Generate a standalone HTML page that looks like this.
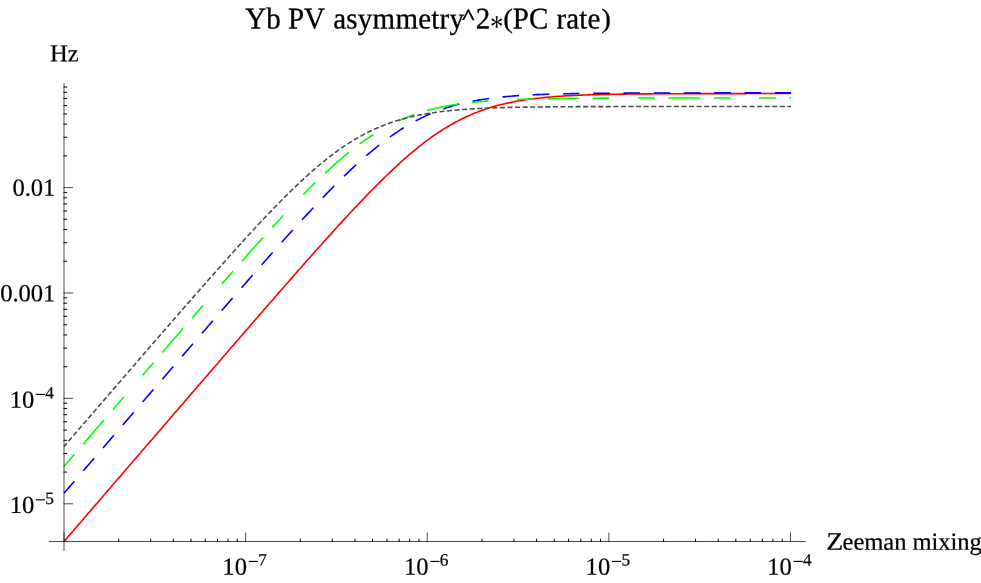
<!DOCTYPE html>
<html><head><meta charset="utf-8"><title>Yb PV asymmetry^2*(PC rate)</title>
<style>html,body{margin:0;padding:0;background:#fff;overflow:hidden}svg{display:block;will-change:transform}text{text-rendering:geometricPrecision;font-family:"Liberation Serif",serif;fill:#000;stroke:#000;stroke-width:0.22px}</style></head><body>
<svg width="981" height="583" viewBox="0 0 981 583">
<rect width="981" height="583" fill="#fff"/>
<g fill="none" stroke-linecap="butt" stroke-linejoin="round">
<path d="M64.00 541.50 L65.82 539.39 L67.64 537.28 L69.45 535.17 L71.27 533.06 L73.09 530.95 L74.91 528.84 L76.72 526.73 L78.54 524.62 L80.36 522.51 L82.18 520.41 L83.99 518.30 L85.81 516.19 L87.63 514.08 L89.45 511.97 L91.27 509.86 L93.08 507.75 L94.90 505.64 L96.72 503.53 L98.54 501.42 L100.35 499.31 L102.17 497.20 L103.99 495.09 L105.81 492.98 L107.62 490.87 L109.44 488.77 L111.26 486.66 L113.08 484.55 L114.89 482.44 L116.71 480.33 L118.53 478.22 L120.35 476.11 L122.17 474.00 L123.98 471.89 L125.80 469.78 L127.62 467.67 L129.44 465.57 L131.25 463.46 L133.07 461.35 L134.89 459.24 L136.71 457.13 L138.52 455.02 L140.34 452.91 L142.16 450.80 L143.98 448.69 L145.80 446.59 L147.61 444.48 L149.43 442.37 L151.25 440.26 L153.07 438.15 L154.88 436.04 L156.70 433.94 L158.52 431.83 L160.34 429.72 L162.15 427.61 L163.97 425.50 L165.79 423.39 L167.61 421.29 L169.43 419.18 L171.24 417.07 L173.06 414.96 L174.88 412.85 L176.70 410.75 L178.51 408.64 L180.33 406.53 L182.15 404.43 L183.97 402.32 L185.78 400.21 L187.60 398.10 L189.42 396.00 L191.24 393.89 L193.05 391.78 L194.87 389.68 L196.69 387.57 L198.51 385.47 L200.33 383.36 L202.14 381.25 L203.96 379.15 L205.78 377.04 L207.60 374.94 L209.41 372.83 L211.23 370.73 L213.05 368.62 L214.87 366.52 L216.68 364.41 L218.50 362.31 L220.32 360.21 L222.14 358.10 L223.96 356.00 L225.77 353.90 L227.59 351.80 L229.41 349.69 L231.23 347.59 L233.04 345.49 L234.86 343.39 L236.68 341.29 L238.50 339.19 L240.31 337.09 L242.13 334.99 L243.95 332.89 L245.77 330.80 L247.59 328.70 L249.40 326.60 L251.22 324.50 L253.04 322.41 L254.86 320.31 L256.67 318.22 L258.49 316.13 L260.31 314.03 L262.13 311.94 L263.94 309.85 L265.76 307.76 L267.58 305.67 L269.40 303.58 L271.21 301.49 L273.03 299.41 L274.85 297.32 L276.67 295.24 L278.49 293.15 L280.30 291.07 L282.12 288.99 L283.94 286.91 L285.76 284.83 L287.57 282.76 L289.39 280.68 L291.21 278.61 L293.03 276.54 L294.84 274.47 L296.66 272.40 L298.48 270.33 L300.30 268.27 L302.12 266.21 L303.93 264.15 L305.75 262.09 L307.57 260.03 L309.39 257.98 L311.20 255.93 L313.02 253.88 L314.84 251.84 L316.66 249.80 L318.47 247.76 L320.29 245.72 L322.11 243.69 L323.93 241.66 L325.75 239.64 L327.56 237.62 L329.38 235.60 L331.20 233.59 L333.02 231.58 L334.83 229.57 L336.65 227.58 L338.47 225.58 L340.29 223.59 L342.10 221.61 L343.92 219.63 L345.74 217.66 L347.56 215.69 L349.37 213.73 L351.19 211.78 L353.01 209.83 L354.83 207.89 L356.65 205.96 L358.46 204.03 L360.28 202.12 L362.10 200.21 L363.92 198.31 L365.73 196.42 L367.55 194.54 L369.37 192.66 L371.19 190.80 L373.00 188.95 L374.82 187.11 L376.64 185.28 L378.46 183.46 L380.28 181.65 L382.09 179.85 L383.91 178.07 L385.73 176.30 L387.55 174.54 L389.36 172.80 L391.18 171.07 L393.00 169.36 L394.82 167.66 L396.63 165.97 L398.45 164.31 L400.27 162.65 L402.09 161.02 L403.91 159.40 L405.72 157.80 L407.54 156.22 L409.36 154.65 L411.18 153.11 L412.99 151.58 L414.81 150.08 L416.63 148.59 L418.45 147.13 L420.26 145.68 L422.08 144.26 L423.90 142.86 L425.72 141.48 L427.53 140.12 L429.35 138.78 L431.17 137.47 L432.99 136.18 L434.81 134.91 L436.62 133.67 L438.44 132.45 L440.26 131.25 L442.08 130.08 L443.89 128.93 L445.71 127.81 L447.53 126.71 L449.35 125.64 L451.16 124.59 L452.98 123.56 L454.80 122.56 L456.62 121.58 L458.44 120.62 L460.25 119.69 L462.07 118.79 L463.89 117.91 L465.71 117.05 L467.52 116.21 L469.34 115.40 L471.16 114.61 L472.98 113.84 L474.79 113.10 L476.61 112.38 L478.43 111.68 L480.25 111.00 L482.07 110.34 L483.88 109.70 L485.70 109.08 L487.52 108.49 L489.34 107.91 L491.15 107.35 L492.97 106.81 L494.79 106.29 L496.61 105.79 L498.42 105.30 L500.24 104.83 L502.06 104.38 L503.88 103.94 L505.70 103.52 L507.51 103.12 L509.33 102.73 L511.15 102.35 L512.97 101.99 L514.78 101.64 L516.60 101.30 L518.42 100.98 L520.24 100.67 L522.05 100.37 L523.87 100.09 L525.69 99.81 L527.51 99.55 L529.32 99.29 L531.14 99.05 L532.96 98.82 L534.78 98.59 L536.60 98.38 L538.41 98.17 L540.23 97.97 L542.05 97.78 L543.87 97.60 L545.68 97.42 L547.50 97.26 L549.32 97.10 L551.14 96.94 L552.95 96.79 L554.77 96.65 L556.59 96.52 L558.41 96.39 L560.23 96.26 L562.04 96.14 L563.86 96.03 L565.68 95.92 L567.50 95.82 L569.31 95.72 L571.13 95.62 L572.95 95.53 L574.77 95.44 L576.58 95.36 L578.40 95.28 L580.22 95.20 L582.04 95.13 L583.86 95.06 L585.67 94.99 L587.49 94.93 L589.31 94.87 L591.13 94.81 L592.94 94.75 L594.76 94.70 L596.58 94.65 L598.40 94.60 L600.21 94.55 L602.03 94.51 L603.85 94.47 L605.67 94.42 L607.48 94.39 L609.30 94.35 L611.12 94.31 L612.94 94.28 L614.76 94.25 L616.57 94.22 L618.39 94.19 L620.21 94.16 L622.03 94.13 L623.84 94.10 L625.66 94.08 L627.48 94.06 L629.30 94.03 L631.11 94.01 L632.93 93.99 L634.75 93.97 L636.57 93.95 L638.39 93.93 L640.20 93.92 L642.02 93.90 L643.84 93.88 L645.66 93.87 L647.47 93.85 L649.29 93.84 L651.11 93.83 L652.93 93.82 L654.74 93.80 L656.56 93.79 L658.38 93.78 L660.20 93.77 L662.02 93.76 L663.83 93.75 L665.65 93.74 L667.47 93.73 L669.29 93.73 L671.10 93.72 L672.92 93.71 L674.74 93.70 L676.56 93.70 L678.37 93.69 L680.19 93.68 L682.01 93.68 L683.83 93.67 L685.64 93.67 L687.46 93.66 L689.28 93.66 L691.10 93.65 L692.92 93.65 L694.73 93.64 L696.55 93.64 L698.37 93.63 L700.19 93.63 L702.00 93.63 L703.82 93.62 L705.64 93.62 L707.46 93.62 L709.27 93.61 L711.09 93.61 L712.91 93.61 L714.73 93.61 L716.55 93.60 L718.36 93.60 L720.18 93.60 L722.00 93.60 L723.82 93.59 L725.63 93.59 L727.45 93.59 L729.27 93.59 L731.09 93.59 L732.90 93.59 L734.72 93.58 L736.54 93.58 L738.36 93.58 L740.18 93.58 L741.99 93.58 L743.81 93.58 L745.63 93.58 L747.45 93.57 L749.26 93.57 L751.08 93.57 L752.90 93.57 L754.72 93.57 L756.53 93.57 L758.35 93.57 L760.17 93.57 L761.99 93.57 L763.80 93.57 L765.62 93.57 L767.44 93.56 L769.26 93.56 L771.08 93.56 L772.89 93.56 L774.71 93.56 L776.53 93.56 L778.35 93.56 L780.16 93.56 L781.98 93.56 L783.80 93.56 L785.62 93.56 L787.43 93.56 L789.25 93.56 L791.07 93.56" stroke="#ff0000" stroke-width="1.60"/>
<path d="M64.00 493.20 L65.82 491.09 L67.64 488.98 L69.45 486.87 L71.27 484.76 L73.09 482.65 L74.91 480.54 L76.72 478.44 L78.54 476.33 L80.36 474.22 L82.18 472.11 L83.99 470.00 L85.81 467.89 L87.63 465.78 L89.45 463.67 L91.27 461.56 L93.08 459.45 L94.90 457.35 L96.72 455.24 L98.54 453.13 L100.35 451.02 L102.17 448.91 L103.99 446.80 L105.81 444.69 L107.62 442.58 L109.44 440.48 L111.26 438.37 L113.08 436.26 L114.89 434.15 L116.71 432.04 L118.53 429.93 L120.35 427.83 L122.17 425.72 L123.98 423.61 L125.80 421.50 L127.62 419.39 L129.44 417.29 L131.25 415.18 L133.07 413.07 L134.89 410.96 L136.71 408.85 L138.52 406.75 L140.34 404.64 L142.16 402.53 L143.98 400.43 L145.80 398.32 L147.61 396.21 L149.43 394.11 L151.25 392.00 L153.07 389.89 L154.88 387.79 L156.70 385.68 L158.52 383.57 L160.34 381.47 L162.15 379.36 L163.97 377.26 L165.79 375.15 L167.61 373.05 L169.43 370.94 L171.24 368.84 L173.06 366.73 L174.88 364.63 L176.70 362.52 L178.51 360.42 L180.33 358.32 L182.15 356.21 L183.97 354.11 L185.78 352.01 L187.60 349.91 L189.42 347.81 L191.24 345.70 L193.05 343.60 L194.87 341.50 L196.69 339.40 L198.51 337.30 L200.33 335.20 L202.14 333.10 L203.96 331.01 L205.78 328.91 L207.60 326.81 L209.41 324.72 L211.23 322.62 L213.05 320.52 L214.87 318.43 L216.68 316.34 L218.50 314.24 L220.32 312.15 L222.14 310.06 L223.96 307.97 L225.77 305.88 L227.59 303.79 L229.41 301.70 L231.23 299.61 L233.04 297.53 L234.86 295.44 L236.68 293.36 L238.50 291.28 L240.31 289.19 L242.13 287.11 L243.95 285.04 L245.77 282.96 L247.59 280.88 L249.40 278.81 L251.22 276.74 L253.04 274.67 L254.86 272.60 L256.67 270.53 L258.49 268.47 L260.31 266.40 L262.13 264.34 L263.94 262.28 L265.76 260.23 L267.58 258.17 L269.40 256.12 L271.21 254.07 L273.03 252.03 L274.85 249.98 L276.67 247.94 L278.49 245.91 L280.30 243.87 L282.12 241.84 L283.94 239.82 L285.76 237.80 L287.57 235.78 L289.39 233.76 L291.21 231.75 L293.03 229.75 L294.84 227.75 L296.66 225.75 L298.48 223.76 L300.30 221.77 L302.12 219.79 L303.93 217.82 L305.75 215.85 L307.57 213.89 L309.39 211.93 L311.20 209.98 L313.02 208.04 L314.84 206.10 L316.66 204.17 L318.47 202.25 L320.29 200.34 L322.11 198.44 L323.93 196.54 L325.75 194.66 L327.56 192.78 L329.38 190.91 L331.20 189.06 L333.02 187.21 L334.83 185.38 L336.65 183.55 L338.47 181.74 L340.29 179.94 L342.10 178.15 L343.92 176.37 L345.74 174.61 L347.56 172.86 L349.37 171.13 L351.19 169.41 L353.01 167.70 L354.83 166.01 L356.65 164.34 L358.46 162.68 L360.28 161.04 L362.10 159.41 L363.92 157.81 L365.73 156.22 L367.55 154.64 L369.37 153.09 L371.19 151.56 L373.00 150.04 L374.82 148.55 L376.64 147.08 L378.46 145.62 L380.28 144.19 L382.09 142.78 L383.91 141.39 L385.73 140.02 L387.55 138.68 L389.36 137.36 L391.18 136.06 L393.00 134.78 L394.82 133.53 L396.63 132.30 L398.45 131.09 L400.27 129.91 L402.09 128.75 L403.91 127.62 L405.72 126.51 L407.54 125.42 L409.36 124.36 L411.18 123.33 L412.99 122.32 L414.81 121.33 L416.63 120.36 L418.45 119.42 L420.26 118.51 L422.08 117.62 L423.90 116.75 L425.72 115.90 L427.53 115.08 L429.35 114.28 L431.17 113.51 L432.99 112.75 L434.81 112.02 L436.62 111.31 L438.44 110.62 L440.26 109.96 L442.08 109.31 L443.89 108.69 L445.71 108.08 L447.53 107.49 L449.35 106.93 L451.16 106.38 L452.98 105.85 L454.80 105.34 L456.62 104.85 L458.44 104.37 L460.25 103.91 L462.07 103.47 L463.89 103.04 L465.71 102.63 L467.52 102.23 L469.34 101.85 L471.16 101.48 L472.98 101.13 L474.79 100.79 L476.61 100.46 L478.43 100.15 L480.25 99.84 L482.07 99.55 L483.88 99.27 L485.70 99.00 L487.52 98.75 L489.34 98.50 L491.15 98.26 L492.97 98.03 L494.79 97.81 L496.61 97.60 L498.42 97.40 L500.24 97.21 L502.06 97.02 L503.88 96.84 L505.70 96.67 L507.51 96.51 L509.33 96.35 L511.15 96.20 L512.97 96.06 L514.78 95.92 L516.60 95.79 L518.42 95.66 L520.24 95.54 L522.05 95.43 L523.87 95.32 L525.69 95.21 L527.51 95.11 L529.32 95.01 L531.14 94.92 L532.96 94.83 L534.78 94.74 L536.60 94.66 L538.41 94.58 L540.23 94.51 L542.05 94.44 L543.87 94.37 L545.68 94.31 L547.50 94.24 L549.32 94.18 L551.14 94.13 L552.95 94.07 L554.77 94.02 L556.59 93.97 L558.41 93.92 L560.23 93.88 L562.04 93.83 L563.86 93.79 L565.68 93.75 L567.50 93.71 L569.31 93.68 L571.13 93.64 L572.95 93.61 L574.77 93.58 L576.58 93.55 L578.40 93.52 L580.22 93.49 L582.04 93.46 L583.86 93.44 L585.67 93.41 L587.49 93.39 L589.31 93.37 L591.13 93.35 L592.94 93.33 L594.76 93.31 L596.58 93.29 L598.40 93.27 L600.21 93.26 L602.03 93.24 L603.85 93.23 L605.67 93.21 L607.48 93.20 L609.30 93.18 L611.12 93.17 L612.94 93.16 L614.76 93.15 L616.57 93.14 L618.39 93.13 L620.21 93.12 L622.03 93.11 L623.84 93.10 L625.66 93.09 L627.48 93.08 L629.30 93.07 L631.11 93.06 L632.93 93.06 L634.75 93.05 L636.57 93.04 L638.39 93.04 L640.20 93.03 L642.02 93.02 L643.84 93.02 L645.66 93.01 L647.47 93.01 L649.29 93.00 L651.11 93.00 L652.93 92.99 L654.74 92.99 L656.56 92.99 L658.38 92.98 L660.20 92.98 L662.02 92.97 L663.83 92.97 L665.65 92.97 L667.47 92.97 L669.29 92.96 L671.10 92.96 L672.92 92.96 L674.74 92.95 L676.56 92.95 L678.37 92.95 L680.19 92.95 L682.01 92.94 L683.83 92.94 L685.64 92.94 L687.46 92.94 L689.28 92.94 L691.10 92.94 L692.92 92.93 L694.73 92.93 L696.55 92.93 L698.37 92.93 L700.19 92.93 L702.00 92.93 L703.82 92.93 L705.64 92.92 L707.46 92.92 L709.27 92.92 L711.09 92.92 L712.91 92.92 L714.73 92.92 L716.55 92.92 L718.36 92.92 L720.18 92.92 L722.00 92.92 L723.82 92.92 L725.63 92.91 L727.45 92.91 L729.27 92.91 L731.09 92.91 L732.90 92.91 L734.72 92.91 L736.54 92.91 L738.36 92.91 L740.18 92.91 L741.99 92.91 L743.81 92.91 L745.63 92.91 L747.45 92.91 L749.26 92.91 L751.08 92.91 L752.90 92.91 L754.72 92.91 L756.53 92.91 L758.35 92.91 L760.17 92.91 L761.99 92.91 L763.80 92.91 L765.62 92.91 L767.44 92.91 L769.26 92.90 L771.08 92.90 L772.89 92.90 L774.71 92.90 L776.53 92.90 L778.35 92.90 L780.16 92.90 L781.98 92.90 L783.80 92.90 L785.62 92.90 L787.43 92.90 L789.25 92.90 L791.07 92.90" stroke="#0000ff" stroke-width="1.60" stroke-dasharray="16.633 13.633" stroke-dashoffset="0.750"/>
<path d="M64.00 466.40 L65.82 464.29 L67.64 462.18 L69.45 460.07 L71.27 457.96 L73.09 455.86 L74.91 453.75 L76.72 451.64 L78.54 449.53 L80.36 447.42 L82.18 445.31 L83.99 443.20 L85.81 441.10 L87.63 438.99 L89.45 436.88 L91.27 434.77 L93.08 432.66 L94.90 430.55 L96.72 428.45 L98.54 426.34 L100.35 424.23 L102.17 422.12 L103.99 420.01 L105.81 417.91 L107.62 415.80 L109.44 413.69 L111.26 411.58 L113.08 409.48 L114.89 407.37 L116.71 405.26 L118.53 403.16 L120.35 401.05 L122.17 398.94 L123.98 396.84 L125.80 394.73 L127.62 392.62 L129.44 390.52 L131.25 388.41 L133.07 386.30 L134.89 384.20 L136.71 382.09 L138.52 379.99 L140.34 377.88 L142.16 375.78 L143.98 373.67 L145.80 371.57 L147.61 369.47 L149.43 367.36 L151.25 365.26 L153.07 363.15 L154.88 361.05 L156.70 358.95 L158.52 356.85 L160.34 354.74 L162.15 352.64 L163.97 350.54 L165.79 348.44 L167.61 346.34 L169.43 344.24 L171.24 342.14 L173.06 340.04 L174.88 337.94 L176.70 335.84 L178.51 333.75 L180.33 331.65 L182.15 329.55 L183.97 327.46 L185.78 325.36 L187.60 323.27 L189.42 321.17 L191.24 319.08 L193.05 316.99 L194.87 314.90 L196.69 312.81 L198.51 310.72 L200.33 308.63 L202.14 306.54 L203.96 304.45 L205.78 302.37 L207.60 300.28 L209.41 298.20 L211.23 296.12 L213.05 294.03 L214.87 291.96 L216.68 289.88 L218.50 287.80 L220.32 285.72 L222.14 283.65 L223.96 281.58 L225.77 279.51 L227.59 277.44 L229.41 275.37 L231.23 273.31 L233.04 271.24 L234.86 269.18 L236.68 267.13 L238.50 265.07 L240.31 263.02 L242.13 260.97 L243.95 258.92 L245.77 256.87 L247.59 254.83 L249.40 252.79 L251.22 250.75 L253.04 248.72 L254.86 246.69 L256.67 244.67 L258.49 242.64 L260.31 240.63 L262.13 238.61 L263.94 236.60 L265.76 234.60 L267.58 232.60 L269.40 230.60 L271.21 228.61 L273.03 226.62 L274.85 224.64 L276.67 222.67 L278.49 220.70 L280.30 218.74 L282.12 216.79 L283.94 214.84 L285.76 212.89 L287.57 210.96 L289.39 209.03 L291.21 207.11 L293.03 205.20 L294.84 203.30 L296.66 201.41 L298.48 199.52 L300.30 197.65 L302.12 195.78 L303.93 193.93 L305.75 192.08 L307.57 190.25 L309.39 188.42 L311.20 186.61 L313.02 184.81 L314.84 183.03 L316.66 181.25 L318.47 179.49 L320.29 177.75 L322.11 176.01 L323.93 174.29 L325.75 172.59 L327.56 170.90 L329.38 169.23 L331.20 167.57 L333.02 165.93 L334.83 164.31 L336.65 162.71 L338.47 161.12 L340.29 159.55 L342.10 158.00 L343.92 156.47 L345.74 154.96 L347.56 153.46 L349.37 151.99 L351.19 150.54 L353.01 149.11 L354.83 147.70 L356.65 146.32 L358.46 144.95 L360.28 143.61 L362.10 142.29 L363.92 141.00 L365.73 139.72 L367.55 138.47 L369.37 137.25 L371.19 136.04 L373.00 134.86 L374.82 133.71 L376.64 132.58 L378.46 131.47 L380.28 130.39 L382.09 129.33 L383.91 128.30 L385.73 127.29 L387.55 126.31 L389.36 125.34 L391.18 124.41 L393.00 123.50 L394.82 122.61 L396.63 121.74 L398.45 120.90 L400.27 120.08 L402.09 119.28 L403.91 118.51 L405.72 117.76 L407.54 117.03 L409.36 116.32 L411.18 115.64 L412.99 114.98 L414.81 114.33 L416.63 113.71 L418.45 113.11 L420.26 112.52 L422.08 111.96 L423.90 111.41 L425.72 110.89 L427.53 110.38 L429.35 109.89 L431.17 109.41 L432.99 108.96 L434.81 108.52 L436.62 108.09 L438.44 107.68 L440.26 107.29 L442.08 106.91 L443.89 106.54 L445.71 106.19 L447.53 105.85 L449.35 105.52 L451.16 105.21 L452.98 104.91 L454.80 104.62 L456.62 104.34 L458.44 104.07 L460.25 103.82 L462.07 103.57 L463.89 103.33 L465.71 103.10 L467.52 102.89 L469.34 102.68 L471.16 102.48 L472.98 102.28 L474.79 102.10 L476.61 101.92 L478.43 101.75 L480.25 101.59 L482.07 101.43 L483.88 101.29 L485.70 101.14 L487.52 101.01 L489.34 100.87 L491.15 100.75 L492.97 100.63 L494.79 100.51 L496.61 100.40 L498.42 100.30 L500.24 100.20 L502.06 100.10 L503.88 100.01 L505.70 99.92 L507.51 99.83 L509.33 99.75 L511.15 99.68 L512.97 99.60 L514.78 99.53 L516.60 99.46 L518.42 99.40 L520.24 99.34 L522.05 99.28 L523.87 99.22 L525.69 99.17 L527.51 99.11 L529.32 99.06 L531.14 99.02 L532.96 98.97 L534.78 98.93 L536.60 98.89 L538.41 98.85 L540.23 98.81 L542.05 98.77 L543.87 98.74 L545.68 98.71 L547.50 98.67 L549.32 98.64 L551.14 98.61 L552.95 98.59 L554.77 98.56 L556.59 98.54 L558.41 98.51 L560.23 98.49 L562.04 98.47 L563.86 98.45 L565.68 98.43 L567.50 98.41 L569.31 98.39 L571.13 98.37 L572.95 98.35 L574.77 98.34 L576.58 98.32 L578.40 98.31 L580.22 98.30 L582.04 98.28 L583.86 98.27 L585.67 98.26 L587.49 98.25 L589.31 98.23 L591.13 98.22 L592.94 98.21 L594.76 98.20 L596.58 98.20 L598.40 98.19 L600.21 98.18 L602.03 98.17 L603.85 98.16 L605.67 98.16 L607.48 98.15 L609.30 98.14 L611.12 98.14 L612.94 98.13 L614.76 98.12 L616.57 98.12 L618.39 98.11 L620.21 98.11 L622.03 98.10 L623.84 98.10 L625.66 98.09 L627.48 98.09 L629.30 98.09 L631.11 98.08 L632.93 98.08 L634.75 98.07 L636.57 98.07 L638.39 98.07 L640.20 98.06 L642.02 98.06 L643.84 98.06 L645.66 98.06 L647.47 98.05 L649.29 98.05 L651.11 98.05 L652.93 98.05 L654.74 98.04 L656.56 98.04 L658.38 98.04 L660.20 98.04 L662.02 98.04 L663.83 98.04 L665.65 98.03 L667.47 98.03 L669.29 98.03 L671.10 98.03 L672.92 98.03 L674.74 98.03 L676.56 98.03 L678.37 98.02 L680.19 98.02 L682.01 98.02 L683.83 98.02 L685.64 98.02 L687.46 98.02 L689.28 98.02 L691.10 98.02 L692.92 98.02 L694.73 98.02 L696.55 98.02 L698.37 98.01 L700.19 98.01 L702.00 98.01 L703.82 98.01 L705.64 98.01 L707.46 98.01 L709.27 98.01 L711.09 98.01 L712.91 98.01 L714.73 98.01 L716.55 98.01 L718.36 98.01 L720.18 98.01 L722.00 98.01 L723.82 98.01 L725.63 98.01 L727.45 98.01 L729.27 98.01 L731.09 98.01 L732.90 98.01 L734.72 98.01 L736.54 98.01 L738.36 98.01 L740.18 98.01 L741.99 98.00 L743.81 98.00 L745.63 98.00 L747.45 98.00 L749.26 98.00 L751.08 98.00 L752.90 98.00 L754.72 98.00 L756.53 98.00 L758.35 98.00 L760.17 98.00 L761.99 98.00 L763.80 98.00 L765.62 98.00 L767.44 98.00 L769.26 98.00 L771.08 98.00 L772.89 98.00 L774.71 98.00 L776.53 98.00 L778.35 98.00 L780.16 98.00 L781.98 98.00 L783.80 98.00 L785.62 98.00 L787.43 98.00 L789.25 98.00 L791.07 98.00" stroke="#00ff00" stroke-width="1.60" stroke-dasharray="16.633 13.633 31.766 13.633 16.633 28.766" stroke-dashoffset="0.750"/>
<path d="M64.00 446.50 L65.82 444.39 L67.64 442.28 L69.45 440.18 L71.27 438.07 L73.09 435.96 L74.91 433.85 L76.72 431.74 L78.54 429.64 L80.36 427.53 L82.18 425.42 L83.99 423.31 L85.81 421.20 L87.63 419.10 L89.45 416.99 L91.27 414.88 L93.08 412.78 L94.90 410.67 L96.72 408.56 L98.54 406.46 L100.35 404.35 L102.17 402.24 L103.99 400.14 L105.81 398.03 L107.62 395.92 L109.44 393.82 L111.26 391.71 L113.08 389.61 L114.89 387.50 L116.71 385.40 L118.53 383.29 L120.35 381.19 L122.17 379.08 L123.98 376.98 L125.80 374.88 L127.62 372.77 L129.44 370.67 L131.25 368.57 L133.07 366.46 L134.89 364.36 L136.71 362.26 L138.52 360.16 L140.34 358.06 L142.16 355.96 L143.98 353.86 L145.80 351.76 L147.61 349.66 L149.43 347.56 L151.25 345.46 L153.07 343.36 L154.88 341.26 L156.70 339.17 L158.52 337.07 L160.34 334.98 L162.15 332.88 L163.97 330.79 L165.79 328.69 L167.61 326.60 L169.43 324.51 L171.24 322.42 L173.06 320.33 L174.88 318.24 L176.70 316.15 L178.51 314.06 L180.33 311.98 L182.15 309.89 L183.97 307.81 L185.78 305.72 L187.60 303.64 L189.42 301.56 L191.24 299.48 L193.05 297.40 L194.87 295.33 L196.69 293.25 L198.51 291.18 L200.33 289.11 L202.14 287.04 L203.96 284.97 L205.78 282.91 L207.60 280.84 L209.41 278.78 L211.23 276.72 L213.05 274.66 L214.87 272.61 L216.68 270.56 L218.50 268.51 L220.32 266.46 L222.14 264.41 L223.96 262.37 L225.77 260.34 L227.59 258.30 L229.41 256.27 L231.23 254.24 L233.04 252.22 L234.86 250.20 L236.68 248.18 L238.50 246.17 L240.31 244.16 L242.13 242.16 L243.95 240.16 L245.77 238.17 L247.59 236.18 L249.40 234.20 L251.22 232.22 L253.04 230.25 L254.86 228.28 L256.67 226.32 L258.49 224.37 L260.31 222.43 L262.13 220.49 L263.94 218.56 L265.76 216.63 L267.58 214.72 L269.40 212.81 L271.21 210.91 L273.03 209.02 L274.85 207.14 L276.67 205.27 L278.49 203.41 L280.30 201.56 L282.12 199.72 L283.94 197.89 L285.76 196.08 L287.57 194.27 L289.39 192.48 L291.21 190.70 L293.03 188.93 L294.84 187.17 L296.66 185.43 L298.48 183.71 L300.30 181.99 L302.12 180.30 L303.93 178.62 L305.75 176.95 L307.57 175.30 L309.39 173.67 L311.20 172.06 L313.02 170.46 L314.84 168.88 L316.66 167.32 L318.47 165.78 L320.29 164.26 L322.11 162.76 L323.93 161.27 L325.75 159.81 L327.56 158.37 L329.38 156.95 L331.20 155.55 L333.02 154.18 L334.83 152.82 L336.65 151.49 L338.47 150.18 L340.29 148.90 L342.10 147.63 L343.92 146.40 L345.74 145.18 L347.56 143.99 L349.37 142.82 L351.19 141.68 L353.01 140.56 L354.83 139.46 L356.65 138.39 L358.46 137.35 L360.28 136.32 L362.10 135.33 L363.92 134.35 L365.73 133.40 L367.55 132.48 L369.37 131.58 L371.19 130.70 L373.00 129.84 L374.82 129.01 L376.64 128.20 L378.46 127.42 L380.28 126.66 L382.09 125.92 L383.91 125.20 L385.73 124.50 L387.55 123.83 L389.36 123.17 L391.18 122.54 L393.00 121.92 L394.82 121.33 L396.63 120.76 L398.45 120.20 L400.27 119.67 L402.09 119.15 L403.91 118.65 L405.72 118.16 L407.54 117.70 L409.36 117.25 L411.18 116.81 L412.99 116.40 L414.81 115.99 L416.63 115.61 L418.45 115.23 L420.26 114.87 L422.08 114.53 L423.90 114.19 L425.72 113.87 L427.53 113.57 L429.35 113.27 L431.17 112.99 L432.99 112.71 L434.81 112.45 L436.62 112.20 L438.44 111.96 L440.26 111.72 L442.08 111.50 L443.89 111.29 L445.71 111.08 L447.53 110.89 L449.35 110.70 L451.16 110.52 L452.98 110.34 L454.80 110.18 L456.62 110.02 L458.44 109.86 L460.25 109.72 L462.07 109.58 L463.89 109.44 L465.71 109.31 L467.52 109.19 L469.34 109.07 L471.16 108.96 L472.98 108.85 L474.79 108.75 L476.61 108.65 L478.43 108.56 L480.25 108.46 L482.07 108.38 L483.88 108.30 L485.70 108.22 L487.52 108.14 L489.34 108.07 L491.15 108.00 L492.97 107.93 L494.79 107.87 L496.61 107.81 L498.42 107.75 L500.24 107.69 L502.06 107.64 L503.88 107.59 L505.70 107.54 L507.51 107.49 L509.33 107.45 L511.15 107.41 L512.97 107.37 L514.78 107.33 L516.60 107.29 L518.42 107.26 L520.24 107.22 L522.05 107.19 L523.87 107.16 L525.69 107.13 L527.51 107.10 L529.32 107.07 L531.14 107.05 L532.96 107.02 L534.78 107.00 L536.60 106.98 L538.41 106.96 L540.23 106.94 L542.05 106.92 L543.87 106.90 L545.68 106.88 L547.50 106.86 L549.32 106.85 L551.14 106.83 L552.95 106.82 L554.77 106.80 L556.59 106.79 L558.41 106.78 L560.23 106.76 L562.04 106.75 L563.86 106.74 L565.68 106.73 L567.50 106.72 L569.31 106.71 L571.13 106.70 L572.95 106.69 L574.77 106.68 L576.58 106.67 L578.40 106.67 L580.22 106.66 L582.04 106.65 L583.86 106.64 L585.67 106.64 L587.49 106.63 L589.31 106.63 L591.13 106.62 L592.94 106.62 L594.76 106.61 L596.58 106.61 L598.40 106.60 L600.21 106.60 L602.03 106.59 L603.85 106.59 L605.67 106.58 L607.48 106.58 L609.30 106.58 L611.12 106.57 L612.94 106.57 L614.76 106.57 L616.57 106.56 L618.39 106.56 L620.21 106.56 L622.03 106.56 L623.84 106.55 L625.66 106.55 L627.48 106.55 L629.30 106.55 L631.11 106.54 L632.93 106.54 L634.75 106.54 L636.57 106.54 L638.39 106.54 L640.20 106.53 L642.02 106.53 L643.84 106.53 L645.66 106.53 L647.47 106.53 L649.29 106.53 L651.11 106.53 L652.93 106.53 L654.74 106.52 L656.56 106.52 L658.38 106.52 L660.20 106.52 L662.02 106.52 L663.83 106.52 L665.65 106.52 L667.47 106.52 L669.29 106.52 L671.10 106.52 L672.92 106.52 L674.74 106.51 L676.56 106.51 L678.37 106.51 L680.19 106.51 L682.01 106.51 L683.83 106.51 L685.64 106.51 L687.46 106.51 L689.28 106.51 L691.10 106.51 L692.92 106.51 L694.73 106.51 L696.55 106.51 L698.37 106.51 L700.19 106.51 L702.00 106.51 L703.82 106.51 L705.64 106.51 L707.46 106.51 L709.27 106.51 L711.09 106.51 L712.91 106.51 L714.73 106.51 L716.55 106.51 L718.36 106.50 L720.18 106.50 L722.00 106.50 L723.82 106.50 L725.63 106.50 L727.45 106.50 L729.27 106.50 L731.09 106.50 L732.90 106.50 L734.72 106.50 L736.54 106.50 L738.36 106.50 L740.18 106.50 L741.99 106.50 L743.81 106.50 L745.63 106.50 L747.45 106.50 L749.26 106.50 L751.08 106.50 L752.90 106.50 L754.72 106.50 L756.53 106.50 L758.35 106.50 L760.17 106.50 L761.99 106.50 L763.80 106.50 L765.62 106.50 L767.44 106.50 L769.26 106.50 L771.08 106.50 L772.89 106.50 L774.71 106.50 L776.53 106.50 L778.35 106.50 L780.16 106.50 L781.98 106.50 L783.80 106.50 L785.62 106.50 L787.43 106.50 L789.25 106.50 L791.07 106.50" stroke="#4d4d4d" stroke-width="1.60" stroke-dasharray="5.033 2.533" stroke-dashoffset="0.625"/>
</g>
<g stroke="#000" fill="none">
<line x1="64.00" y1="83.20" x2="64.00" y2="551.00" stroke-width="1" stroke="#000" stroke-opacity="0.7"/>
<line x1="49.00" y1="541.50" x2="805.70" y2="541.50" stroke-width="1" stroke="#000" stroke-opacity="0.7"/>
<path d="M64.00 542.00V532.50 M245.63 542.00V532.50 M427.26 542.00V532.50 M608.89 542.00V532.50 M790.52 542.00V532.50 M63.50 503.80H73.00 M63.50 398.40H73.00 M63.50 293.00H73.00 M63.50 187.60H73.00" stroke-width="1" stroke="#000" stroke-opacity="0.7"/>
<path d="M118.68 542.00V538.70 M150.66 542.00V538.70 M173.35 542.00V538.70 M190.95 542.00V538.70 M205.34 542.00V538.70 M217.50 542.00V538.70 M228.03 542.00V538.70 M237.32 542.00V538.70 M300.31 542.00V538.70 M332.29 542.00V538.70 M354.98 542.00V538.70 M372.58 542.00V538.70 M386.97 542.00V538.70 M399.13 542.00V538.70 M409.66 542.00V538.70 M418.95 542.00V538.70 M481.94 542.00V538.70 M513.92 542.00V538.70 M536.61 542.00V538.70 M554.21 542.00V538.70 M568.60 542.00V538.70 M580.76 542.00V538.70 M591.29 542.00V538.70 M600.58 542.00V538.70 M663.57 542.00V538.70 M695.55 542.00V538.70 M718.24 542.00V538.70 M735.84 542.00V538.70 M750.23 542.00V538.70 M762.39 542.00V538.70 M772.92 542.00V538.70 M782.21 542.00V538.70 M63.50 472.07H67.10 M63.50 453.51H67.10 M63.50 440.34H67.10 M63.50 430.13H67.10 M63.50 421.78H67.10 M63.50 414.73H67.10 M63.50 408.61H67.10 M63.50 403.22H67.10 M63.50 366.67H67.10 M63.50 348.11H67.10 M63.50 334.94H67.10 M63.50 324.73H67.10 M63.50 316.38H67.10 M63.50 309.33H67.10 M63.50 303.21H67.10 M63.50 297.82H67.10 M63.50 261.27H67.10 M63.50 242.71H67.10 M63.50 229.54H67.10 M63.50 219.33H67.10 M63.50 210.98H67.10 M63.50 203.93H67.10 M63.50 197.81H67.10 M63.50 192.42H67.10 M63.50 155.87H67.10 M63.50 137.31H67.10 M63.50 124.14H67.10 M63.50 113.93H67.10 M63.50 105.58H67.10 M63.50 98.53H67.10 M63.50 92.41H67.10 M63.50 87.02H67.10" stroke-width="1" stroke="#000"/>
</g>
<text transform="matrix(1.0000 0.0006 0 1.0400 245.20 28.50)" font-size="29.00" style="stroke-width:0.30px">Yb PV</text>
<text transform="matrix(1.0000 0.0006 0 1.0400 333.17 28.50)" font-size="29.00" letter-spacing="0.250" style="stroke-width:0.30px">asymmetry</text>
<text transform="matrix(0.8900 0.0006 0 0.7600 462.24 24.10)" font-size="29.00" style="stroke-width:0.80px">^</text>
<text transform="matrix(1.0000 0.0006 0 1.0400 475.70 28.50)" font-size="29.00" style="stroke-width:0.30px">2</text>
<text transform="matrix(1.0000 0.0006 0 1.0400 512.86 28.50)" font-size="29.00" style="stroke-width:0.30px">PC</text>
<text transform="matrix(1.0000 0.0006 0 1.0400 556.47 28.50)" font-size="29.00" letter-spacing="0.180" style="stroke-width:0.30px">rate</text>
<text transform="matrix(1.0000 0.0006 0 0.9400 503.20 27.50)" font-size="29.00" style="stroke-width:0.30px">(</text>
<text transform="matrix(1.0000 0.0006 0 0.9400 601.36 27.50)" font-size="29.00" style="stroke-width:0.30px">)</text>
<path d="M497.00 22.00 L497.70 17.10 A1.00 1.00 0 0 0 495.70 17.10 L496.40 22.00 Z M496.85 21.74 L492.96 18.68 A1.00 1.00 0 0 0 491.96 20.42 L496.55 22.26 Z M496.55 21.74 L491.96 23.58 A1.00 1.00 0 0 0 492.96 25.32 L496.85 22.26 Z M496.40 22.00 L495.70 26.90 A1.00 1.00 0 0 0 497.70 26.90 L497.00 22.00 Z M496.55 22.26 L500.44 25.32 A1.00 1.00 0 0 0 501.44 23.58 L496.85 21.74 Z M496.85 22.26 L501.44 20.42 A1.00 1.00 0 0 0 500.44 18.68 L496.55 21.74 Z" fill="#000" stroke="none"/>
<text transform="matrix(1.0000 0.0006 0 1.0000 49.95 61.60)" font-size="24.60">Hz</text>
<text transform="matrix(1.1300 0.0006 0 1.0300 826.20 549.70)" font-size="24.60">Z</text>
<text transform="matrix(1.0000 0.0006 0 1.0000 842.62 549.70)" font-size="24.60" letter-spacing="-0.080">eeman mixing</text>
<text transform="matrix(1.0000 0.0006 0 1.0000 12.50 195.75)" font-size="24.60" letter-spacing="-0.050">0.01</text>
<text transform="matrix(1.0000 0.0006 0 1.0000 0.25 301.35)" font-size="24.60" letter-spacing="-0.050">0.001</text>
<text transform="matrix(1.0000 0.0006 0 1.0000 9.76 407.70)" font-size="24.60">10</text>
<path d="M35.76 394.43H44.96" stroke="#000" stroke-width="1.15" fill="none"/>
<text transform="matrix(1.0000 0.0006 0 1.0000 45.16 398.60)" font-size="17.30">4</text>
<text transform="matrix(1.0000 0.0006 0 1.0000 9.76 513.10)" font-size="24.60">10</text>
<path d="M35.76 499.83H44.96" stroke="#000" stroke-width="1.15" fill="none"/>
<text transform="matrix(1.0000 0.0006 0 1.0000 45.16 504.00)" font-size="17.30">5</text>
<text transform="matrix(1.0000 0.0006 0 1.0000 222.34 574.70)" font-size="24.60">10</text>
<path d="M248.74 561.43H257.94" stroke="#000" stroke-width="1.15" fill="none"/>
<text transform="matrix(1.0000 0.0006 0 1.0000 258.14 565.60)" font-size="17.30">7</text>
<text transform="matrix(1.0000 0.0006 0 1.0000 403.97 574.70)" font-size="24.60">10</text>
<path d="M430.37 561.43H439.57" stroke="#000" stroke-width="1.15" fill="none"/>
<text transform="matrix(1.0000 0.0006 0 1.0000 439.77 565.60)" font-size="17.30">6</text>
<text transform="matrix(1.0000 0.0006 0 1.0000 585.60 574.70)" font-size="24.60">10</text>
<path d="M612.00 561.43H621.20" stroke="#000" stroke-width="1.15" fill="none"/>
<text transform="matrix(1.0000 0.0006 0 1.0000 621.40 565.60)" font-size="17.30">5</text>
<text transform="matrix(1.0000 0.0006 0 1.0000 767.23 574.70)" font-size="24.60">10</text>
<path d="M793.63 561.43H802.83" stroke="#000" stroke-width="1.15" fill="none"/>
<text transform="matrix(1.0000 0.0006 0 1.0000 803.03 565.60)" font-size="17.30">4</text>
</svg></body></html>
